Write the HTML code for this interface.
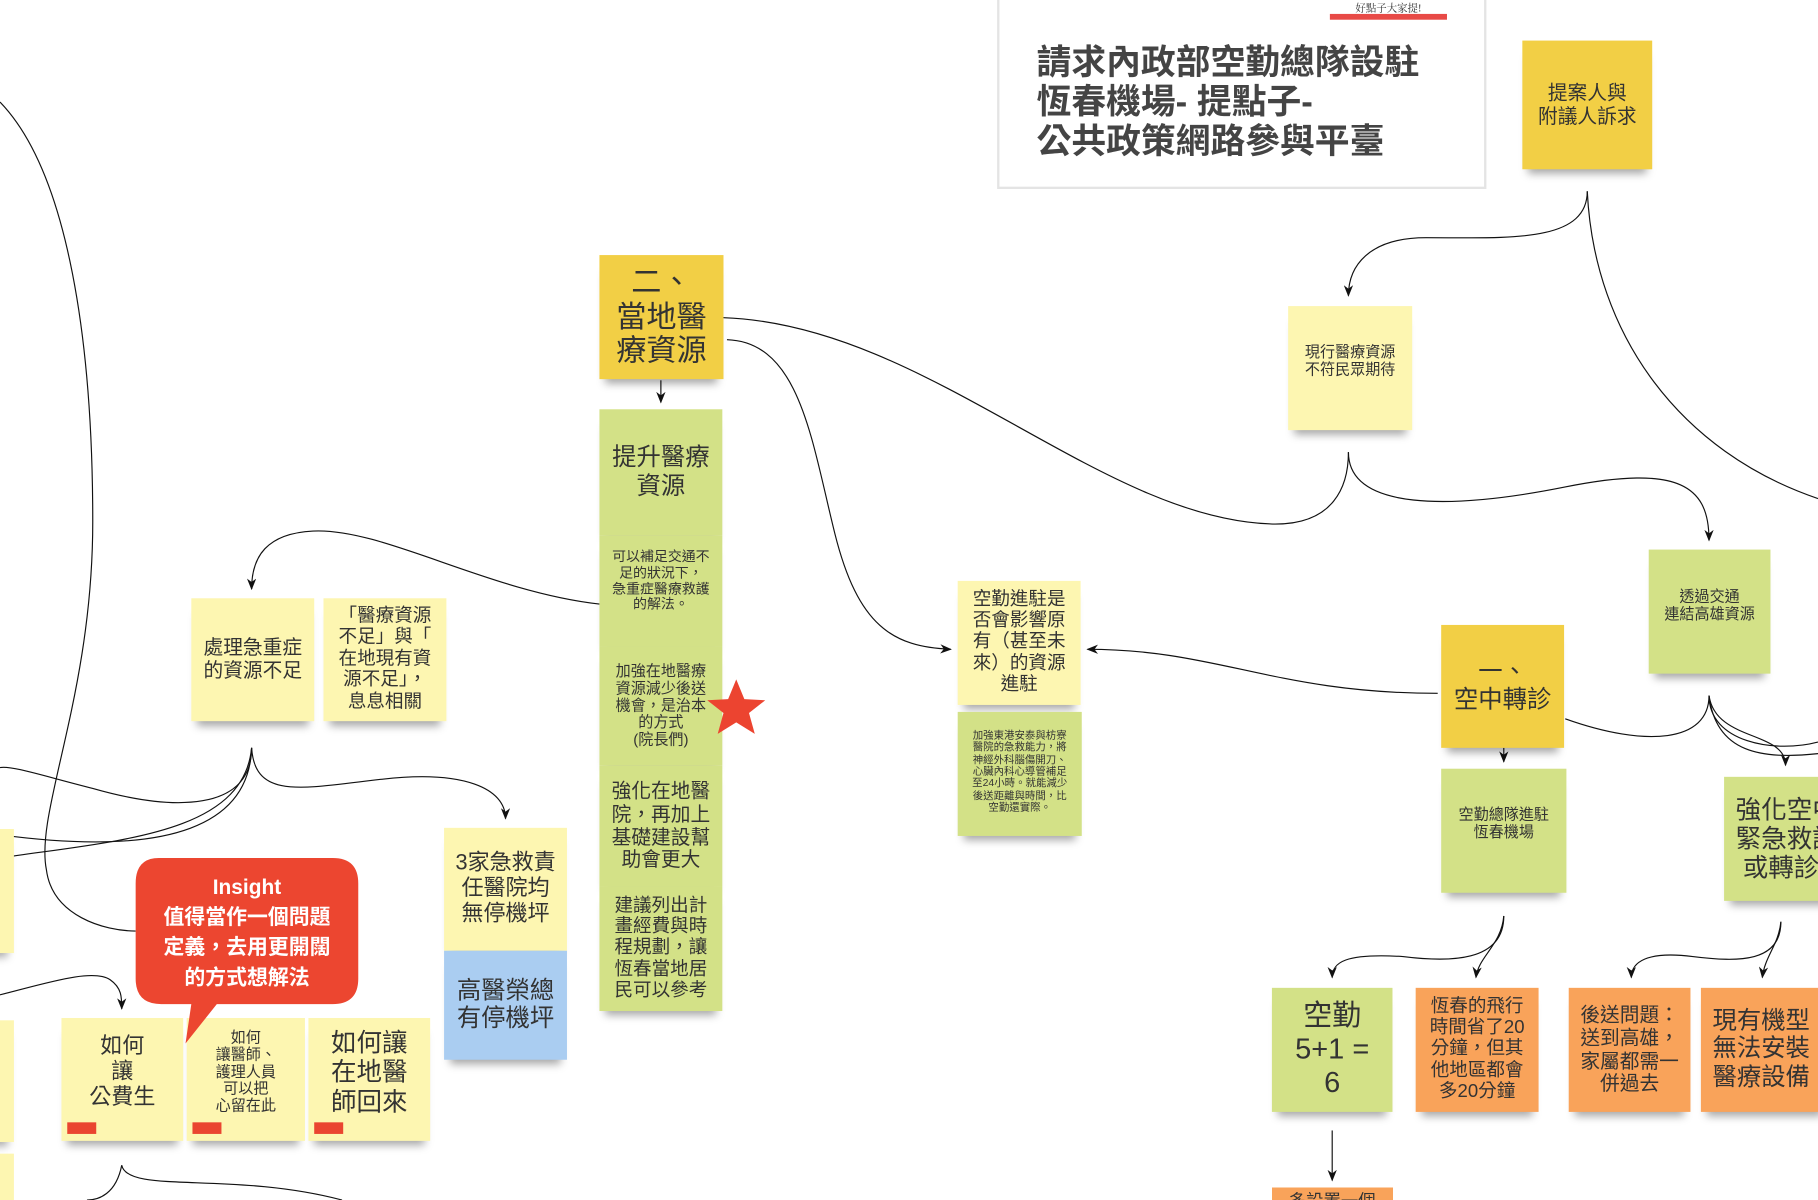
<!DOCTYPE html>
<html><head><meta charset="utf-8">
<style>
html,body{margin:0;padding:0;background:#fff;overflow:hidden;width:1818px;height:1200px;position:relative}
#wrap{position:absolute;left:0;top:0;width:1818px;height:1200px;overflow:hidden}
#c{position:absolute;left:0;top:0;width:1568px;height:1035px;transform:scale(1.159439);transform-origin:0 0;font-family:"Liberation Sans","Noto Sans CJK TC",sans-serif;color:#333}
.n{position:absolute;display:flex;align-items:center;justify-content:center;text-align:center;box-sizing:border-box;line-height:1.15;box-shadow:0 9px 7px -5px rgba(0,0,0,0.35)}
.y{background:#f2cf45}.p{background:#fdf6b1}.g{background:#d3e187}.o{background:#f9a35a}.b{background:#aacdf1}
.tag{position:absolute;width:25px;height:10px;background:#ea4530}
svg{position:absolute;left:0;top:0}
</style></head><body><div id="wrap"><div id="c">
<svg width="1568" height="1035" viewBox="0 0 1568 1035">
<defs>
<marker id="r" markerWidth="10" markerHeight="8" refX="9" refY="4" orient="auto" markerUnits="userSpaceOnUse" viewBox="0 0 10 8"><path d="M0,0 L10,4 L0,8 L3,4 Z" fill="#111"/></marker></defs>
<g fill="none" stroke="#111" stroke-width="1">
<path d="M0,88 C60,150 80,300 80,450 C80,600 30,700 40,750 C45,790 90,803 117,803"/>
<path d="M570,328 L570,347" marker-end="url(#r)"/>
<path d="M624,274 C800,280 950,450 1100,452 C1150,452 1163,420 1163,390"/>
<path d="M1163,390 C1163,440 1250,440 1350,420 C1450,400 1474,420 1474,466" marker-end="url(#r)"/>
<path d="M627,293 C690,295 700,380 720,460 C740,540 770,558 820,560" marker-end="url(#r)"/>
<path d="M1240,598 C1100,598 1050,560 938,560" marker-end="url(#r)"/>
<path d="M1369,165 C1369,210 1300,205 1230,205 C1180,205 1163,230 1163,255" marker-end="url(#r)"/>
<path d="M1369,165 C1375,290 1450,390 1568,430"/>
<path d="M517,521 C420,510 330,455 270,458 C230,460 217,480 217,508" marker-end="url(#r)"/>
<path d="M217,645 C220,690 260,680 330,672 C400,664 436,680 436,706" marker-end="url(#r)"/>
<path d="M217,645 C217,700 150,700 80,680 C40,670 10,660 0,662"/>
<path d="M217,645 C215,710 150,740 0,720"/>
<path d="M217,645 C210,720 100,725 0,740"/>
<path d="M0,858 C40,848 80,835 95,845 C105,852 105,860 105,870" marker-end="url(#r)"/>
<path d="M105,1005 C100,1030 85,1035 75,1035"/>
<path d="M105,1005 C110,1030 200,1010 295,1035"/>
<path d="M1474,600 C1474,640 1420,645 1350,620"/>
<path d="M1474,600 C1480,640 1540,630 1540,660" marker-end="url(#r)"/>
<path d="M1474,600 C1480,650 1520,655 1568,650"/>
<path d="M1474,600 C1474,640 1530,650 1568,640"/>
<path d="M1297,645 L1297,657" marker-end="url(#r)"/>
<path d="M1297,790 C1297,830 1250,830 1210,825 C1160,822 1149,830 1149,843" marker-end="url(#r)"/>
<path d="M1297,790 C1295,815 1275,825 1273,843" marker-end="url(#r)"/>
<path d="M1536,795 C1536,830 1500,830 1460,825 C1420,820 1407,830 1407,843" marker-end="url(#r)"/>
<path d="M1536,795 C1534,815 1522,825 1520,843" marker-end="url(#r)"/>
<path d="M1149,975 L1149,1018" marker-end="url(#r)"/>
</g>
</svg>

<div style="position:absolute;left:860px;top:-4px;width:422px;height:167px;border:2px solid #e4e4e4;box-sizing:border-box;background:#fff"></div>
<div style="position:absolute;left:1147px;top:0px;width:101px;text-align:center;font-size:9px;font-family:'Liberation Serif','Noto Serif CJK SC',serif">好點子大家提!</div>
<div style="position:absolute;left:1147px;top:12px;width:101px;height:5px;background:#e84a46"></div>
<div style="position:absolute;left:894px;top:38px;font-size:30px;font-weight:bold;line-height:34px;color:#444;white-space:nowrap">請求內政部空勤總隊設駐<br>恆春機場- 提點子-<br>公共政策網路參與平臺</div>

<div class="n y" style="left:1313px;top:35px;width:112px;height:111px;font-size:17px">提案人與<br>附議人訴求</div>
<div class="n y" style="left:517px;top:220px;width:107px;height:107px;font-size:26px">二、<br>當地醫<br>療資源</div>
<div class="n g" style="left:517px;top:353px;width:106px;height:109px;font-size:21px">提升醫療<br>資源</div>
<div class="n g" style="left:517px;top:462px;width:106px;height:96px;font-size:12px;align-items:flex-start;padding-top:12px">可以補足交通不<br>足的狀況下，<br>急重症醫療救護<br>的解法。</div>
<div class="n g" style="left:517px;top:558px;width:106px;height:102px;font-size:13px">加強在地醫療<br>資源減少後送<br>機會，是治本<br>的方式<br>(院長們)</div>
<div class="n g" style="left:517px;top:660px;width:106px;height:105px;font-size:17px">強化在地醫<br>院，再加上<br>基礎建設幫<br>助會更大</div>
<div class="n g" style="left:517px;top:765px;width:106px;height:107px;font-size:16px">建議列出計<br>畫經費與時<br>程規劃，讓<br>恆春當地居<br>民可以參考</div>
<svg width="60" height="60" style="left:605px;top:582px"><polygon points="30,4 37,21 55,22 41,33 46,51 30,41 14,51 19,33 5,22 23,21" fill="#ec4430"/></svg>

<div class="n p" style="left:165px;top:516px;width:106px;height:106px;font-size:17px">處理急重症<br>的資源不足</div>
<div class="n p" style="left:279px;top:516px;width:106px;height:106px;font-size:16px">「醫療資源<br>不足」與「<br>在地現有資<br>源不足」，<br>息息相關</div>
<div class="n p" style="left:383px;top:714px;width:106px;height:106px;font-size:19px">3家急救責<br>任醫院均<br>無停機坪</div>
<div class="n b" style="left:383px;top:820px;width:106px;height:94px;font-size:21px">高醫榮總<br>有停機坪</div>

<div class="n p" style="left:-95px;top:715px;width:107px;height:107px"></div>
<div class="n p" style="left:-95px;top:880px;width:107px;height:105px"></div>
<div class="n p" style="left:-95px;top:995px;width:107px;height:60px;box-shadow:none"></div>

<div class="n p" style="left:53px;top:878px;width:105px;height:106px;font-size:19px;padding-bottom:12px">如何<br>讓<br>公費生</div>
<div class="tag" style="left:58px;top:968px"></div>
<div class="n p" style="left:161px;top:878px;width:102px;height:106px;font-size:13px;padding-bottom:12px">如何<br>讓醫師、<br>護理人員<br>可以把<br>心留在此</div>
<div class="tag" style="left:166px;top:968px"></div>
<div class="n p" style="left:266px;top:878px;width:105px;height:106px;font-size:22px;padding-bottom:12px">如何讓<br>在地醫<br>師回來</div>
<div class="tag" style="left:271px;top:968px"></div>

<svg width="200" height="170" style="left:115px;top:738px"><path d="M22,2 H172 Q194,2 194,24 V106 Q194,128 172,128 H72 L45,162 L50,128 H24 Q2,128 2,106 V24 Q2,2 22,2 Z" fill="#ec4630"/></svg>
<div style="position:absolute;left:117px;top:752px;width:192px;text-align:center;color:#fff;font-size:18px;font-weight:bold;line-height:26px">Insight<br>值得當作一個問題<br>定義，去用更開闊<br>的方式想解法</div>

<div class="n p" style="left:826px;top:501px;width:106px;height:107px;font-size:16px">空勤進駐是<br>否會影響原<br>有（甚至未<br>來）的資源<br>進駐</div>
<div class="n g" style="left:826px;top:614px;width:107px;height:107px;font-size:9px;align-items:flex-start;padding-top:15px">加強東港安泰與枋寮<br>醫院的急救能力，將<br>神經外科腦傷開刀、<br>心臟內科心導管補足<br>至24小時。就能減少<br>後送距離與時間，比<br>空勤還實際。</div>

<div class="n p" style="left:1111px;top:264px;width:107px;height:107px;font-size:13px;padding-bottom:12px">現行醫療資源<br>不符民眾期待</div>
<div class="n g" style="left:1422px;top:474px;width:105px;height:107px;font-size:13px;padding-bottom:10px">透過交通<br>連結高雄資源</div>
<div class="n y" style="left:1243px;top:539px;width:106px;height:106px;font-size:21px">一、<br>空中轉診</div>
<div class="n g" style="left:1243px;top:663px;width:108px;height:107px;font-size:13px;padding-bottom:12px">空勤總隊進駐<br>恆春機場</div>
<div class="n g" style="left:1487px;top:670px;width:110px;height:107px;font-size:22px;justify-content:flex-start;padding-left:10px;text-align:left">強化空中<br>緊急救護<br>&nbsp;或轉診</div>

<div class="n g" style="left:1097px;top:852px;width:104px;height:107px;font-size:25px">空勤<br>5+1 =<br>6</div>
<div class="n o" style="left:1221px;top:852px;width:106px;height:107px;font-size:16px">恆春的飛行<br>時間省了20<br>分鐘，但其<br>他地區都會<br>多20分鐘</div>
<div class="n o" style="left:1353px;top:852px;width:105px;height:107px;font-size:17px">後送問題：<br>送到高雄，<br>家屬都需一<br>併過去</div>
<div class="n o" style="left:1467px;top:852px;width:110px;height:107px;font-size:21px;justify-content:flex-start;padding-left:10px">現有機型<br>無法安裝<br>醫療設備</div>
<div class="n o" style="left:1097px;top:1024px;width:104px;height:40px;font-size:15px;align-items:flex-start;padding-top:4px;box-shadow:none">多設置一個</div>
</div></div></body></html>
